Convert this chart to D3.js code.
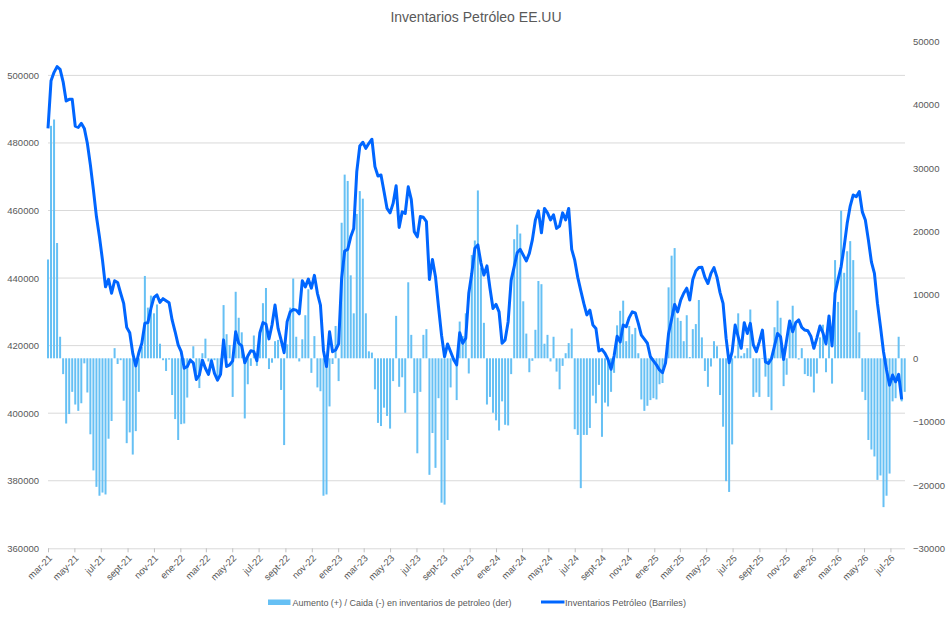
<!DOCTYPE html>
<html>
<head>
<meta charset="utf-8">
<script src="https://cdn.jsdelivr.net/npm/d3@7"></script>
<style>
  body { margin: 0; background: #fff; }
  text { font-family: "Liberation Sans", Arial, sans-serif; fill: #595959; }
</style>
</head>
<body>
<svg id="chart" width="951" height="619"></svg>
<script>
// inventario semanal (miles de barriles) - eje izquierdo
var inventario = [
  484300,498400,500900,502600,501800,498100,492400,492900,492900,485000,
  484600,485800,484300,479900,473500,466100,458200,452200,445300,437400,
  439600,435500,439200,438700,435500,432500,425400,423800,417700,414000,
  417900,420700,426600,426800,431000,434300,435000,432800,433900,433300,
  432700,427600,424100,420200,418200,413300,413800,415700,414900,410000,
  411300,415700,413300,411500,415500,411800,409800,411500,421700,413800,
  414300,415500,424100,420700,419900,414900,416900,418500,418200,415500,
  423800,426800,426400,422000,426100,432000,425100,421700,417900,427100,
  430000,430700,430500,429400,439200,437400,439700,437000,440800,435500,
  432000,418500,413800,424100,418200,418700,420500,439900,448000,448500,
  452200,454700,471500,479100,480200,478400,479900,481100,473000,470200,
  470500,465600,460600,459300,462100,467300,455000,459600,459100,467000,
  463300,453700,452200,458200,458000,456700,439600,445500,440400,431500,
  423100,416700,420500,418200,415900,414300,423800,420700,422200,435500,
  441400,448800,449800,444500,440900,443600,437000,431000,432200,430000,
  420700,421700,427100,439400,443400,447500,448500,446800,445100,447300,
  451300,457200,459900,453400,460600,459300,457200,458700,454700,455400,
  459300,457200,460600,448500,445300,440200,436300,432500,429100,430500,
  426100,425100,418400,418900,417700,415900,413000,416900,422800,421100,
  426100,425600,428300,430000,429700,426600,423100,421900,420700,416700,
  415500,414300,412800,412000,414900,423600,427800,432200,430000,433500,
  435500,437000,433500,439600,442100,443100,443200,440200,438400,441400,
  443100,440200,435700,432500,422200,414900,418200,426100,422600,419200,
  426800,423600,426600,420200,418200,421200,424600,415200,414700,416200,
  419900,423600,422600,415900,421700,427300,424100,426800,427600,425400,
  424600,424400,422800,419200,422300,425800,423800,420500,428800,419900,
  435500,439600,443400,449300,456200,461300,464600,464100,465600,459600,
  457200,451300,444800,441400,432500,425600,418200,412800,408300,411300,
  409300,411500,404100
];

// variacion semanal (eje derecho)
var cambio = [
  15600,36700,37700,18200,3400,-2500,-10300,-8800,-5300,-7300,
  -8300,-7100,-800,-5400,-12000,-17700,-20300,-21700,-21200,-21500,
  -12700,-9900,1600,-900,-300,-6700,-13400,-11700,-15200,-11500,
  -5300,1800,13000,8000,9900,7100,8500,2300,-300,-2000,
  -200,-5800,-9600,-12900,-10400,-10300,-6200,-500,1900,-2600,
  -4700,800,3100,-500,-300,-300,-3400,-2400,8400,3800,
  2100,-6100,10500,6400,4100,-9500,-4100,-1200,3600,-1200,
  4200,8700,11100,-1700,-700,2700,2900,-5000,-13700,2200,
  8000,12600,3400,-500,3000,6800,10900,-2300,3500,-4600,
  -5200,-21700,-21500,-7600,-900,5100,-3600,21400,29000,28000,
  13100,7100,22800,26400,25200,7100,1100,900,-4900,-10200,
  -10700,-7800,-9100,-11100,-3600,6700,-4500,-3000,-8600,12000,
  3700,-5500,-15000,-5300,3700,4600,-18400,-11800,-17300,-6300,
  -22800,-23100,-12900,-4600,-500,-6600,5800,3500,7100,-2400,
  16300,18600,26500,14300,5600,-7300,-6100,-8600,-9800,-11400,
  -6800,-10500,-10600,-2500,18800,21100,19700,9000,3900,-2200,
  -400,4500,12200,11700,2300,3700,-500,3400,-2100,-4900,
  -1200,800,2400,4700,-11200,-12100,-20500,-12100,-12100,-11000,
  -5900,-7100,-4200,-12400,-7000,-7600,-5300,-2300,5200,7500,
  9100,2700,5100,3800,4800,800,-6500,-8300,-7500,-6600,
  -6300,-6500,-4100,-3900,-800,11200,16200,17400,6400,5900,
  2700,6800,200,4600,5400,9200,3300,-2000,-4500,-1300,
  2700,1900,-5800,-10800,-19400,-21100,-13600,400,7100,400,
  800,1600,7700,-6100,-5400,-6100,-100,-2900,-6100,-8200,
  4900,9100,6400,-4400,-2600,5900,8300,5500,-200,1600,
  -2500,-2800,-2900,-5400,-2400,3300,5300,-2200,5500,-4000,
  15500,8900,23300,13500,16900,18500,15500,7600,4100,-5300,
  -6600,-12900,-14400,-15500,-19200,-18500,-23500,-21700,-18200,-6800,
  -6300,3400,-6800,-5300
];

var meses = ["mar-21","may-21","jul-21","sept-21","nov-21","ene-22","mar-22","may-22",
  "jul-22","sept-22","nov-22","ene-23","mar-23","may-23","jul-23","sept-23","nov-23",
  "ene-24","mar-24","may-24","jul-24","sept-24","nov-24","ene-25","mar-25","may-25",
  "jul-25","sept-25","nov-25","ene-26","mar-26","may-26","jul-26"];
var ticksIzq = [360000,380000,400000,420000,440000,460000,480000,500000];
var ticksDer = [-30000,-20000,-10000,0,10000,20000,30000,40000,50000];

var inicio = new Date(2021, 2, 5);
var fechas = cambio.map(function(d, i){ return d3.timeWeek.offset(inicio, i); });
var fechasTicks = meses.map(function(m, k){ return d3.timeMonth.offset(inicio, 2*k); });

var svg = d3.select("#chart");
var top_ = 41.6, bottom = 548.3, left = 48, right = 904.7;

var x = d3.scaleTime().domain([fechas[0], fechas[fechas.length-1]]).range([left, right]);
var yL = d3.scaleLinear().domain([360000, 510000]).range([bottom, top_]);
var yR = d3.scaleLinear().domain([-30000, 50000]).range([bottom, top_]);

// titulo
svg.append("text").attr("x", 476).attr("y", 22).attr("text-anchor", "middle")
  .style("font-size", "14px").text("Inventarios Petróleo EE.UU");

// lineas de grilla
svg.append("g").selectAll("line").data(ticksIzq.slice(1)).enter().append("line")
  .attr("x1", left).attr("x2", 905)
  .attr("y1", function(d){ return yL(d); }).attr("y2", function(d){ return yL(d); })
  .attr("stroke", "#d9d9d9").attr("stroke-width", 1);

// eje izquierdo
var gL = svg.append("g").attr("transform", "translate(" + (left - 9) + ",0)")
  .call(d3.axisLeft(yL).tickValues(ticksIzq).tickSize(0).tickPadding(0).tickFormat(d3.format("d")));
gL.select(".domain").remove();
gL.selectAll("text").style("font-size", "9.5px").style("fill", "#595959").style("font-family", null);

// eje derecho
var gR = svg.append("g").attr("transform", "translate(913,0)")
  .call(d3.axisRight(yR).tickValues(ticksDer).tickSize(0).tickPadding(0).tickFormat(d3.format("d")));
gR.select(".domain").remove();
gR.selectAll("text").style("font-size", "9.5px").style("fill", "#595959").style("font-family", null);

// barras
svg.append("g").selectAll("rect").data(cambio).enter().append("rect")
  .attr("x", function(d, i){ return x(fechas[i]) - 1; })
  .attr("width", 2)
  .attr("y", function(d){ return Math.min(yR(d), yR(0)); })
  .attr("height", function(d){ return Math.abs(yR(d) - yR(0)); })
  .attr("fill", "#66c0f4");

// eje x
var gX = svg.append("g").attr("transform", "translate(0," + bottom + ")")
  .call(d3.axisBottom(x).tickValues(fechasTicks).tickSize(4)
    .tickFormat(function(d, k){ return meses[k]; }));
gX.select(".domain").attr("stroke", "#d9d9d9").attr("d", "M" + left + ",0.5H905");
gX.selectAll(".tick line").attr("stroke", "#bfbfbf");
gX.selectAll("text").style("font-size", "9.5px").style("fill", "#595959").style("font-family", null)
  .attr("text-anchor", "end").attr("y", 0).attr("dy", "0.35em")
  .attr("transform", "translate(2,8) rotate(-45)");

// linea de inventarios
var linea = d3.line()
  .x(function(d, i){ return x(fechas[i]); })
  .y(function(d){ return yL(d); });
svg.append("path").datum(inventario).attr("d", linea)
  .attr("fill", "none").attr("stroke", "#0066ff").attr("stroke-width", 3)
  .attr("stroke-linejoin", "round");

// leyenda
var ley = svg.append("g");
ley.append("rect").attr("x", 268).attr("y", 599.5).attr("width", 22.5).attr("height", 5.5).attr("fill", "#66c0f4");
ley.append("text").attr("x", 292.5).attr("y", 605.5).style("font-size", "9px")
  .attr("textLength", 219).attr("lengthAdjust", "spacingAndGlyphs")
  .text("Aumento (+) / Caida (-) en inventarios de petroleo (der)");
ley.append("line").attr("x1", 541).attr("x2", 564.5).attr("y1", 602).attr("y2", 602)
  .attr("stroke", "#0066ff").attr("stroke-width", 3);
ley.append("text").attr("x", 565).attr("y", 605.5).style("font-size", "9px")
  .attr("textLength", 121).attr("lengthAdjust", "spacingAndGlyphs")
  .text("Inventarios Petróleo (Barriles)");
</script>
</body>
</html>
